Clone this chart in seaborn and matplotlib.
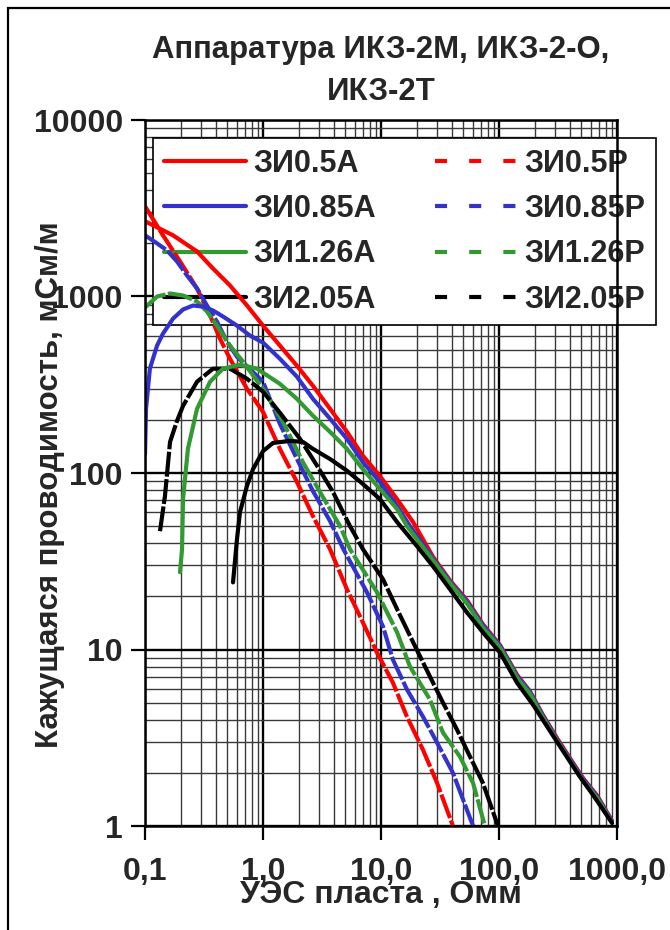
import matplotlib
matplotlib.use("Agg")
import matplotlib.pyplot as plt
import seaborn as sns
import pandas as pd
from matplotlib.lines import Line2D
from matplotlib.patches import Rectangle
from matplotlib.ticker import LogLocator, NullFormatter, FixedLocator, FixedFormatter

sns.set_style("white")
plt.rcParams["font.family"] = ["Liberation Sans", "DejaVu Sans"]
plt.rcParams["font.weight"] = "bold"

title_lines = ["Аппаратура ИКЗ-2М, ИКЗ-2-О,", "ИКЗ-2Т"]
xlabel = "УЭС пласта , Омм"
ylabel = "Кажущаяся проводимость, мСм/м"
x_ticks = [0.1, 1, 10, 100, 1000]
x_tick_labels = ["0,1", "1,0", "10,0", "100,0", "1000,0"]
y_ticks = [1, 10, 100, 1000, 10000]
y_tick_labels = ["1", "10", "100", "1000", "10000"]

names_A = ["ЗИ0.5А", "ЗИ0.85А", "ЗИ1.26А", "ЗИ2.05А"]
names_P = ["ЗИ0.5Р", "ЗИ0.85Р", "ЗИ1.26Р", "ЗИ2.05Р"]
colors = ["#FF0000", "#3333CC", "#339933", "#000000"]

# ---- solid (A) curves ----
x_05A = [0.1, 0.173, 0.276, 0.377, 0.525, 0.731, 1.0, 1.39, 1.94, 2.65, 3.70, 5.15, 7.03, 9.81, 13.7, 18.7,
         27.6, 38.5, 53.6, 73.1, 102, 142, 183, 236, 310, 400, 515, 678, 908]
y_05A = [2670, 2220, 1800, 1440, 1155, 890, 684, 527, 405, 312, 231, 171, 125, 96, 71, 52.7,
         33.5, 24.6, 19.0, 13.9, 10.6, 7.2, 5.8, 4.25, 3.15, 2.42, 1.87, 1.49, 1.07]

x_085A = [0.1, 0.102, 0.110, 0.1265, 0.142, 0.173, 0.210, 0.255, 0.310, 0.377, 0.458, 0.602, 0.776, 1.0, 1.39,
          1.94, 2.65, 3.70, 5.15, 7.03, 9.81, 13.7, 17.6,
          27.6, 38.5, 53.6, 73.1, 102, 142, 183, 236, 310, 400, 515, 678, 908]
y_085A = [128, 231, 390, 527, 616, 750, 844, 889, 877, 833, 770, 684, 600, 548, 444,
          351, 263, 203, 156, 115, 88.9, 64.9, 50.0,
          32.8, 24.2, 18.7, 13.7, 10.5, 7.1, 5.75, 4.2, 3.1, 2.39, 1.85, 1.47, 1.06]

x_126A = [0.198, 0.206, 0.210, 0.231, 0.276, 0.356, 0.458, 0.638, 0.889, 1.39, 1.94, 2.65, 3.70, 5.15, 7.03,
          9.81, 13.7, 16.6,
          27.6, 38.5, 53.6, 73.1, 102, 142, 183, 236, 310, 400, 515, 678, 908]
y_126A = [27.4, 37, 71, 137, 231, 329, 390, 411, 390, 320, 263, 211, 171, 137, 105,
          81.1, 62.4, 50.0,
          32.0, 23.7, 18.2, 13.3, 10.25, 6.9, 5.62, 4.1, 3.04, 2.34, 1.81, 1.44, 1.04]

x_205A = [0.557, 0.602, 0.638, 0.731, 0.822, 1.0, 1.216, 1.69, 2.18, 2.65, 3.70, 5.15, 7.03, 9.81, 13.7, 20.2,
          27.6, 38.5, 53.6, 73.1, 102, 142, 194, 310, 485, 626, 908]
y_205A = [24.0, 42.2, 60.0, 84.4, 105, 133, 148, 152, 150, 137, 120, 103, 86.6, 71.1, 52.7, 38.5,
          29.6, 21.9, 16.2, 12.5, 9.6, 6.49, 4.87, 3.0, 1.90, 1.50, 1.04]

# ---- dashed (P) curves ----
x_05P = [0.1, 0.142, 0.198, 0.276, 0.356, 0.432, 0.525, 0.731, 1.0, 1.39, 1.94, 2.65, 3.70, 5.15, 6.64,
         9.25, 12.6, 16.6, 22.7, 29.9, 40.7]
y_05P = [3245, 2222, 1581, 1110, 780, 577, 444, 300, 222, 137, 88.9, 57.0, 37.0, 21.9, 15.4,
         9.6, 6.5, 4.16, 2.70, 1.75, 1.0]

x_085P = [0.1, 0.1265, 0.1536, 0.1866, 0.227, 0.276, 0.335, 0.407, 0.495, 0.602, 1.0, 1.39, 1.94, 2.65, 3.70,
          4.8, 7.6, 10.4, 12.6, 16.6, 22.7, 29.9, 40.7, 60.3]
y_085P = [2222, 2000, 1825, 1581, 1316, 1110, 889, 721, 555, 456, 329, 190, 120, 79, 53.4,
          37, 21.1, 13.5, 8.77, 5.93, 4.16, 2.96, 2.0, 1.0]

x_126P = [0.1, 0.1265, 0.163, 0.210, 0.276, 0.335, 0.407, 0.525, 0.677, 1.0, 1.476, 2.18, 3.04, 4.5, 5.46,
          9.25, 13.7, 17.6, 26.0, 33.5, 46.7, 60.3, 76]
y_126P = [866, 1000, 1040, 1013, 937, 822, 684, 527, 427, 300, 195, 115, 78, 50, 37,
          21.1, 12.5, 8.0, 5.2, 3.38, 2.47, 1.75, 1.0]

x_205P = [0.134, 0.1476, 0.163, 0.1866, 0.210, 0.276, 0.377, 0.525, 0.731, 1.0, 1.393, 2.06, 2.87, 3.92, 5.46,
          7.03, 10.4, 13.7, 18.7, 26.0, 33.5, 44.1, 56.8, 73.1, 98]
y_205P = [46.8, 74, 150, 197, 240, 329, 390, 390, 342, 289, 219, 156, 110, 78, 50,
          37, 25, 16.9, 11.0, 7.02, 5.0, 3.51, 2.47, 1.75, 1.0]

xs_A = [x_05A, x_085A, x_126A, x_205A]
ys_A = [y_05A, y_085A, y_126A, y_205A]
xs_P = [x_05P, x_085P, x_126P, x_205P]
ys_P = [y_05P, y_085P, y_126P, y_205P]

LW = 3.0
plot_dash = (0, (6.0, 0.6))
legend_dash = (0, (2.9, 5.3))

fig = plt.figure(figsize=(6.7, 9.3), dpi=100)
ax = fig.add_axes([145 / 670, 1 - 826 / 930, 472 / 670, 706 / 930])
ax.set_xscale("log")
ax.set_yscale("log")

for xv, yv, c in zip(xs_P, ys_P, colors):
    df = pd.DataFrame({"x": xv, "y": yv})
    sns.lineplot(data=df, x="x", y="y", ax=ax, sort=False, estimator=None,
                 color=c, lw=LW, linestyle=plot_dash, zorder=3)
for xv, yv, c in zip(xs_A, ys_A, colors):
    df = pd.DataFrame({"x": xv, "y": yv})
    sns.lineplot(data=df, x="x", y="y", ax=ax, sort=False, estimator=None,
                 color=c, lw=LW, zorder=4)

ax.set_xlim(0.1, 1000)
ax.set_ylim(1, 10000)
ax.set_xlabel("")
ax.set_ylabel("")

ax.xaxis.set_major_locator(FixedLocator(x_ticks))
ax.xaxis.set_major_formatter(FixedFormatter(x_tick_labels))
ax.yaxis.set_major_locator(FixedLocator(y_ticks))
ax.yaxis.set_major_formatter(FixedFormatter(y_tick_labels))
ax.xaxis.set_minor_locator(LogLocator(base=10, subs=range(2, 10), numticks=20))
ax.yaxis.set_minor_locator(LogLocator(base=10, subs=range(2, 10), numticks=20))
ax.xaxis.set_minor_formatter(NullFormatter())
ax.yaxis.set_minor_formatter(NullFormatter())

ax.set_axisbelow(True)
ax.grid(which="major", color="black", lw=1.7)
ax.grid(which="minor", color="#3a3a3a", lw=1.0)
for s in ax.spines.values():
    s.set_color("black")
    s.set_linewidth(1.8)
    s.set_zorder(5)

ax.tick_params(which="major", direction="out", length=10, width=1.6, color="black",
               labelsize=23, bottom=True, left=True, top=False, right=False)
ax.tick_params(axis="x", which="major", pad=12)
ax.tick_params(axis="y", which="major", pad=6)
ax.tick_params(which="minor", length=0)
for lab in ax.get_xticklabels() + ax.get_yticklabels():
    lab.set_fontweight("bold")

fig.text(381 / 670, 1 - 50 / 930, title_lines[0], ha="center", va="center", fontsize=22.4, weight="bold")
fig.text(381 / 670, 1 - 92 / 930, title_lines[1], ha="center", va="center", fontsize=22.4, weight="bold")
fig.text(381 / 670, 1 - 895 / 930, xlabel, ha="center", va="center", fontsize=23, weight="bold")
fig.text(50 / 670, 1 - 485 / 930, ylabel, ha="center", va="center", rotation=90, fontsize=22.5, weight="bold")

handles = [Line2D([], [], color=c, lw=LW) for c in colors] + \
          [Line2D([], [], color=c, lw=LW, linestyle=legend_dash) for c in colors]
labels = names_A + names_P
leg = ax.legend(handles, labels, ncol=2, loc="upper left",
                bbox_to_anchor=(153 / 670, 1 - 138 / 930), bbox_transform=fig.transFigure,
                fontsize=22, frameon=True, fancybox=False, framealpha=1,
                handlelength=2.7, handletextpad=0.25, columnspacing=1.9,
                labelspacing=0.5, borderpad=0.35, borderaxespad=0)
leg.get_frame().set_edgecolor("black")
leg.get_frame().set_linewidth(1.2)
leg.set_zorder(2.5)
for t in leg.get_texts():
    t.set_fontweight("bold")

fig.patches.append(Rectangle((8 / 670, -0.1), 1.2, 1.1 - 8 / 930, transform=fig.transFigure,
                             fill=False, ec="black", lw=1.6))

fig.savefig("out.png", dpi=100)
